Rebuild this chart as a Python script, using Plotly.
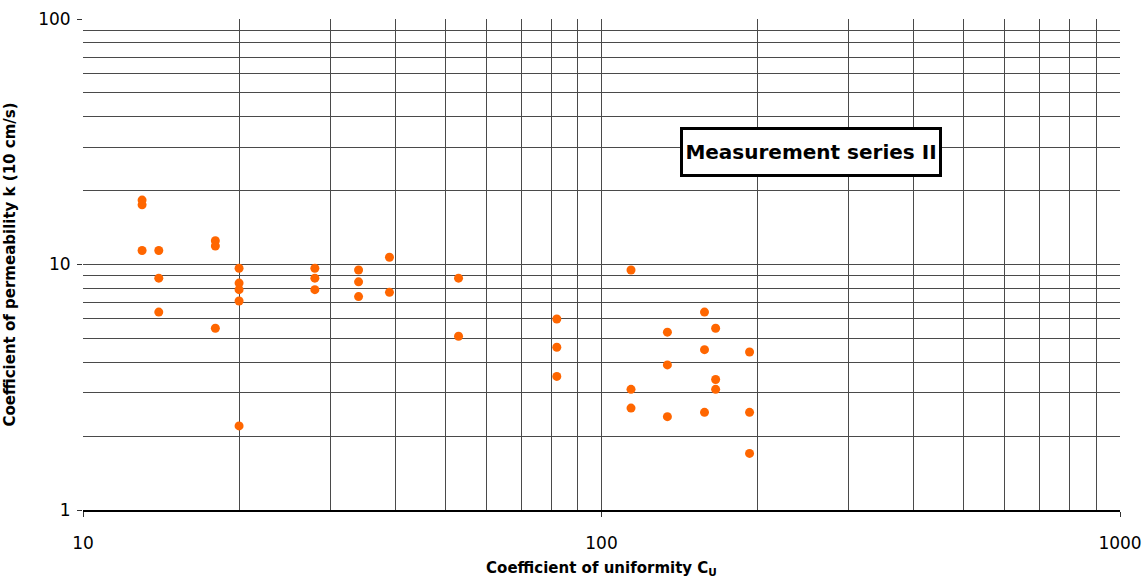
import plotly.graph_objects as go

# Coefficient of uniformity C_U per sample
cu = [13, 13, 13,
      14, 14, 14,
      18, 18, 18,
      20, 20, 20, 20, 20,
      28, 28, 28,
      34, 34, 34,
      39, 39,
      53, 53,
      82, 82, 82,
      114, 114, 114,
      134, 134, 134,
      158, 158, 158,
      166, 166, 166,
      193, 193, 193]

# Coefficient of permeability k per sample
k = [18.3, 17.5, 11.4,
     11.4, 8.8, 6.4,
     12.5, 11.9, 5.5,
     9.65, 8.4, 7.9, 7.1, 2.2,
     9.65, 8.8, 7.9,
     9.5, 8.5, 7.4,
     10.7, 7.7,
     8.8, 5.1,
     6.0, 4.6, 3.5,
     9.5, 3.1, 2.6,
     5.3, 3.9, 2.4,
     6.4, 4.5, 2.5,
     5.5, 3.4, 3.1,
     4.4, 2.5, 1.7]

x_major = [10, 100, 1000]
y_major = [1, 10, 100]
x_minor = [m * d for d in (10, 100) for m in range(2, 10)]
y_minor = [m * d for d in (1, 10) for m in range(2, 10)]

FONT = "DejaVu Sans"
GRID = "#4a4a4a"

fig = go.Figure()
fig.add_trace(go.Scatter(
    x=cu, y=k, mode="markers",
    marker=dict(color="#FF6600", size=9, line=dict(width=0)),
    showlegend=False,
))

fig.update_xaxes(
    type="log", range=[1, 3], automargin=False,
    tickmode="array", tickvals=x_major, ticktext=[str(v) for v in x_major],
    ticks="outside", ticklen=5, tickcolor="#333333", ticklabelstandoff=12,
    showgrid=True, gridcolor=GRID, gridwidth=1,
    minor=dict(tickmode="array", tickvals=x_minor, showgrid=True,
               gridcolor=GRID, gridwidth=1, ticks=""),
    showline=True, linecolor="black", linewidth=1.5,
    zeroline=False,
    tickfont=dict(family=FONT, size=17, color="black"),
    title=dict(text="<b>Coefficient of uniformity C<sub>U</sub></b>",
               font=dict(family=FONT, size=15, color="black"), standoff=22),
)
fig.update_yaxes(
    type="log", range=[0, 2], automargin=False,
    tickmode="array", tickvals=y_major, ticktext=[str(v) for v in y_major],
    ticks="outside", ticklen=5, tickcolor="#333333", ticklabelstandoff=3,
    showgrid=True, gridcolor=GRID, gridwidth=1,
    minor=dict(tickmode="array", tickvals=y_minor, showgrid=True,
               gridcolor=GRID, gridwidth=1, ticks=""),
    showline=False, zeroline=False,
    tickfont=dict(family=FONT, size=17, color="black"),
    title=dict(text="<b>Coefficient of permeability k (10 cm/s)</b>",
               font=dict(family=FONT, size=15, color="black"), standoff=18),
)

fig.add_annotation(
    xref="paper", yref="paper", x=0.7017, y=0.729,
    xanchor="center", yanchor="middle",
    text="<b>Measurement series II</b>", showarrow=False,
    width=252, height=40, align="center", valign="middle",
    font=dict(family=FONT, size=20, color="black"),
    bgcolor="white", bordercolor="black", borderwidth=3, borderpad=2,
)

fig.update_layout(
    width=1144, height=578,
    margin=dict(l=83, r=24, t=19, b=68),
    plot_bgcolor="white", paper_bgcolor="white",
)

fig.write_html("out.html")
